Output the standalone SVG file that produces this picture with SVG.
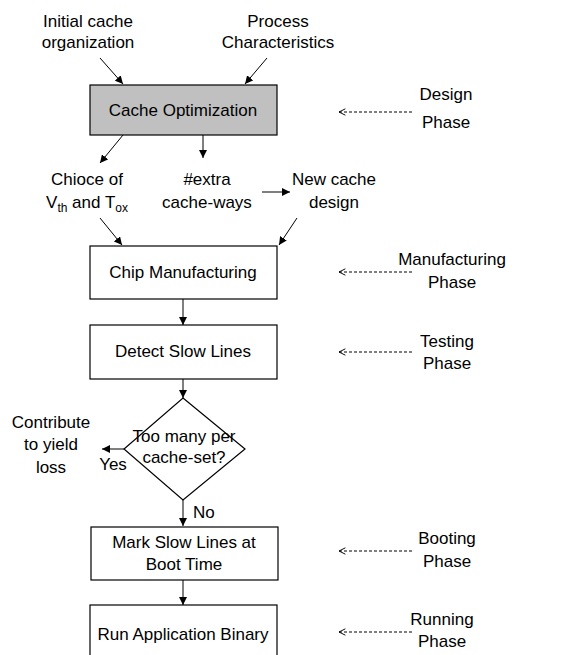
<svg xmlns="http://www.w3.org/2000/svg" width="585" height="655" viewBox="0 0 585 655">
<style>
text{font-family:"Liberation Sans",Arial,sans-serif;font-size:17px;fill:#000;text-anchor:middle}
.box{fill:#fff;stroke:#000;stroke-width:1.2}
.gray{fill:#c0c0c0}
.c{stroke:#000;stroke-width:1;fill:none;marker-end:url(#ah)}
.d{stroke:#000;stroke-width:1;fill:none;stroke-dasharray:3,2;marker-end:url(#oh)}
.sub{font-size:12px}
</style>
<defs>
<marker id="ah" viewBox="0 0 10 10" refX="10" refY="5" markerWidth="8" markerHeight="8" markerUnits="userSpaceOnUse" orient="auto">
<path d="M0,0 L10,5 L0,10 z" fill="#000"/>
</marker>
<marker id="oh" viewBox="0 0 10 10" refX="9" refY="5" markerWidth="8" markerHeight="8" markerUnits="userSpaceOnUse" orient="auto">
<path d="M1,1 L9,5 L1,9" fill="none" stroke="#000" stroke-width="1.2"/>
</marker>
</defs>
<g id="input-initial"><text x="88" y="27">Initial cache</text><text x="88" y="48">organization</text></g>
<g id="input-process"><text x="278" y="27">Process</text><text x="278" y="48">Characteristics</text></g>
<g id="cache-opt"><rect class="box gray" x="90" y="85" width="187" height="50"/><text x="183" y="116">Cache Optimization</text></g>
<g id="choice"><text x="87" y="185">Chioce of</text><text x="87" y="208">V<tspan class="sub" dy="4">th</tspan><tspan dy="-4"> and T</tspan><tspan class="sub" dy="4">ox</tspan></text></g>
<g id="extra"><text x="207" y="185">#extra</text><text x="207" y="208">cache-ways</text></g>
<g id="newcache"><text x="334" y="185">New cache</text><text x="334" y="208">design</text></g>
<g id="chip"><rect class="box" x="90" y="246" width="187" height="53"/><text x="183" y="278">Chip Manufacturing</text></g>
<g id="detect"><rect class="box" x="90" y="325" width="187" height="54"/><text x="183" y="357">Detect Slow Lines</text></g>
<g id="decision"><path class="box" d="M183,398 L245,449 L183,500 L124,449 z"/><text x="184" y="442">Too many per</text><text x="184" y="463">cache-set?</text></g>
<g id="yield"><text x="51" y="428">Contribute</text><text x="51" y="450">to yield</text><text x="51" y="473">loss</text></g>
<g id="mark"><rect class="box" x="91" y="527" width="187" height="53"/><text x="184" y="548">Mark Slow Lines at</text><text x="184" y="570">Boot Time</text></g>
<g id="run"><rect class="box" x="90" y="605" width="187" height="60"/><text x="183" y="640">Run Application Binary</text></g>
<g id="phase-design"><text x="446" y="100">Design</text><text x="446" y="128">Phase</text></g>
<g id="phase-manuf"><text x="452" y="265">Manufacturing</text><text x="452" y="288">Phase</text></g>
<g id="phase-test"><text x="447" y="347">Testing</text><text x="447" y="369">Phase</text></g>
<g id="phase-boot"><text x="447" y="544">Booting</text><text x="447" y="567">Phase</text></g>
<g id="phase-run"><text x="442" y="625">Running</text><text x="442" y="647">Phase</text></g>
<g id="connectors">
<line class="c" x1="100" y1="58" x2="123" y2="84"/>
<line class="c" x1="267" y1="58" x2="245" y2="84"/>
<line class="c" x1="123" y1="135" x2="100" y2="163"/>
<line class="c" x1="203" y1="135" x2="203" y2="158"/>
<line class="c" x1="262" y1="192" x2="290" y2="192"/>
<line class="c" x1="100" y1="218" x2="122" y2="245"/>
<line class="c" x1="297" y1="218" x2="279" y2="245"/>
<line class="c" x1="183" y1="299" x2="183" y2="325"/>
<line class="c" x1="183" y1="379" x2="183" y2="398"/>
<line class="c" x1="124" y1="449" x2="102" y2="449"/>
<text x="113" y="470">Yes</text>
<line class="c" x1="183" y1="500" x2="183" y2="526"/>
<text x="193" y="518" style="text-anchor:start">No</text>
<line class="c" x1="183" y1="580" x2="183" y2="605"/>
<line class="d" x1="412" y1="112" x2="339" y2="112"/>
<line class="d" x1="412" y1="272" x2="339" y2="272"/>
<line class="d" x1="412" y1="352" x2="339" y2="352"/>
<line class="d" x1="412" y1="551" x2="339" y2="551"/>
<line class="d" x1="412" y1="632" x2="339" y2="632"/>
</g>
</svg>
